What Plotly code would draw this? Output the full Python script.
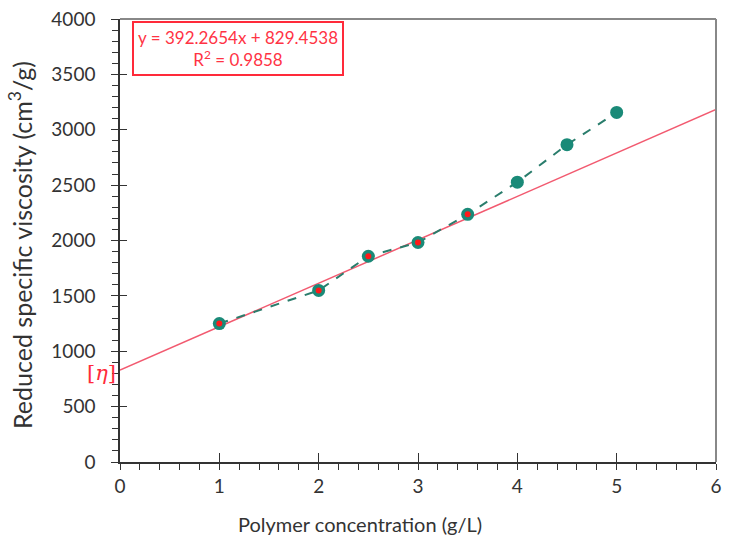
import plotly.graph_objects as go

# ---- data ----
conc = [1.0, 2.0, 2.5, 3.0, 3.5, 4.0, 4.5, 5.0]
visc = [1250, 1549, 1858, 1982, 2236, 2527, 2865, 3156]
fit_conc = [1.0, 2.0, 2.5, 3.0, 3.5]
fit_visc = [1250, 1549, 1858, 1982, 2236]
slope = 392.2654
intercept = 829.4538
r2 = 0.9858
line_x = [0, 6]
line_y = [intercept + slope * v for v in line_x]
x_ticks = [0, 1, 2, 3, 4, 5, 6]
y_ticks = [0, 500, 1000, 1500, 2000, 2500, 3000, 3500, 4000]

FONT = "Lato"
TXT = "#333333"

fig = go.Figure()
fig.add_trace(go.Scatter(x=line_x, y=line_y, mode="lines",
                         line=dict(color="#f25a70", width=1.5), showlegend=False,
                         hoverinfo="skip"))
fig.add_trace(go.Scatter(x=conc, y=visc, mode="lines+markers",
                         line=dict(color="#2a7d6c", width=2, dash="dash"),
                         marker=dict(color="#1a8a78", size=13), showlegend=False))
fig.add_trace(go.Scatter(x=fit_conc, y=fit_visc, mode="markers",
                         marker=dict(color="#ff1a1a", size=6), showlegend=False))

# invisible trace on overlay axes so the inside ticks render
fig.add_trace(go.Scatter(x=[0], y=[0], xaxis="x2", yaxis="y2", mode="markers",
                         marker=dict(opacity=0), showlegend=False, hoverinfo="skip"))

axis_common = dict(showgrid=False, zeroline=False, linecolor="#333333", linewidth=1.5,
                   tickcolor="#333333", ticklabeloverflow="allow",
                   tickfont=dict(family=FONT, size=19, color=TXT))

fig.update_layout(
    width=729, height=545,
    margin=dict(l=120, r=7, t=12, b=83),
    paper_bgcolor="white", plot_bgcolor="white",
    xaxis=dict(range=[0, 6], tickvals=x_ticks, ticks="outside", ticklen=6,
               ticklabelstandoff=0,
               minor=dict(dtick=0.2, ticks="outside", ticklen=6, tickcolor="#333333"),
               **axis_common),
    yaxis=dict(range=[0, 4000], tickvals=y_ticks, ticks="outside", ticklen=7,
               ticklabelstandoff=12,
               minor=dict(dtick=100, ticks="outside", ticklen=6, tickcolor="#333333"),
               **axis_common),
    xaxis2=dict(overlaying="x", matches="x", range=[0, 6], tickvals=x_ticks,
                ticks="inside", ticklen=9, tickcolor="#333333", showticklabels=False,
                showgrid=False, zeroline=False, showline=False, anchor="y2"),
    yaxis2=dict(overlaying="y", matches="y", range=[0, 4000], tickvals=y_ticks,
                ticks="inside", ticklen=7, tickcolor="#333333", showticklabels=False,
                showgrid=False, zeroline=False, showline=False, anchor="x2"),
    shapes=[
        dict(type="line", xref="paper", yref="paper", x0=0, x1=1, y0=1, y1=1,
             line=dict(color="#888888", width=2)),
        dict(type="line", xref="paper", yref="paper", x0=1, x1=1, y0=0, y1=1,
             line=dict(color="#888888", width=2)),
    ],
    annotations=[
        dict(text="Polymer concentration (g/L)", xref="paper", yref="paper",
             x=0.402, y=-0.14, showarrow=False, xanchor="center", yanchor="middle",
             font=dict(family=FONT, size=20, color=TXT)),
        dict(text="Reduced specific viscosity (cm<sup>3</sup>/g)", xref="paper", yref="paper",
             x=-0.166, y=0.49, textangle=-90, showarrow=False,
             xanchor="center", yanchor="middle",
             font=dict(family=FONT, size=25, color=TXT)),
        dict(text=f"y = {slope:.4f}x + {intercept:.4f}<br>R<sup>2</sup> = {r2:.4f}",
             xref="paper", yref="paper", x=0.1985, y=0.934, showarrow=False,
             xanchor="center", yanchor="middle", align="center",
             bordercolor="#ff2a3a", borderwidth=2, borderpad=4, bgcolor="white",
             font=dict(family=FONT, size=17, color="#ff3344")),
        dict(text="[<i>η</i>]", xref="paper", yref="y", x=-0.003, y=intercept - 30,
             showarrow=False, xanchor="right", yanchor="middle",
             font=dict(family="DejaVu Serif", size=21, color="#ff2a3a")),
    ],
)

fig.write_html("out.html")
